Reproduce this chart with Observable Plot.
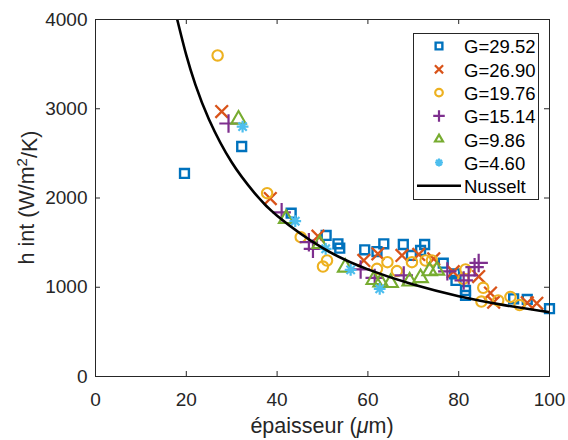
<!DOCTYPE html>
<html>
<head>
<meta charset="utf-8">
<script src="https://cdn.jsdelivr.net/npm/d3@7"></script>
<script src="https://cdn.jsdelivr.net/npm/@observablehq/plot@0.6"></script>
<style>
  html, body { margin: 0; padding: 0; background: #fff; }
  #chart { width: 568px; height: 440px; }
</style>
</head>
<body>
<div id="chart"></div>
<script>
// ---- data ----
const seriesNames = ["G=29.52", "G=26.90", "G=19.76", "G=15.14", "G=9.86", "G=4.60"];
const seriesColors = ["#0072BD", "#D95319", "#EDB120", "#7E2F8E", "#77AC30", "#4DBEEE"];

const g2952 = [[19.6,2275],[32.2,2577],[43.1,1830],[50.8,1580],[53.4,1487],[53.8,1438],[59.3,1419],[62.0,1400],[63.5,1487],[67.8,1479],[69.6,1356],[71.6,1412],[72.5,1479],[76.6,1270],[79.1,1151],[79.4,1076],[81.5,964],[81.5,908],[92.1,871],[95.1,863],[100,760]];
const g2690 = [[27.8,2969],[38.5,1994],[49.0,1572],[59.1,1300],[62.2,1375],[67.5,1356],[71.2,1367],[74.5,1318],[78.8,1175],[84.4,1120],[87.0,935],[87.7,833],[95.1,825],[97.2,820]];
const g1976 = [[26.9,3597],[37.8,2054],[45.2,1561],[50.1,1232],[51.0,1300],[62.0,1206],[64.3,1281],[66.4,1181],[69.7,1281],[72.7,1300],[74.1,1300],[81.5,1200],[81.0,1095],[85.4,994],[85.0,840],[88.7,852],[91.4,892],[93.4,800]];
const g1514 = [[29.3,2835],[41.0,1840],[47.0,1505],[47.9,1431],[58.4,1200],[61.5,1105],[67.9,1132],[77.5,1178],[81.1,1076],[82.2,1132],[83.5,1225],[84.4,1272]];
const g986 = [[31.5,2880],[42.0,1767],[49.4,1487],[55.0,1222],[61.3,1083],[62.8,1057],[65.0,1050],[69.2,1066],[71.6,1104],[73.6,1181],[75.2,1188]];
const g460 = [[32.4,2800],[44.0,1740],[50.7,1431],[56.2,1195],[62.6,982]];
const seriesData = [g2952, g2690, g1976, g1514, g986, g460];

// Nusselt curve points
const nusseltX = [18.0, 20, 22, 25, 30, 35, 40, 50, 60, 70, 80, 90, 100];
const nusseltY = [4000, 3600, 3270, 2880, 2400, 2057, 1800, 1440, 1200, 1030, 900, 800, 720];

const xTicks = [0, 20, 40, 60, 80, 100];
const yTicks = [0, 1000, 2000, 3000, 4000];

// ---- layout ----
const W = 568, H = 440;
const mL = 95, mR = 19, mT = 19, mB = 64;
const innerW = W - mL - mR, innerH = H - mT - mB;
const axisColor = "#262626";
const fontFam = "'Liberation Sans', Arial, Helvetica, sans-serif";
const tick = 5;

// custom 8-spoke asterisk like MATLAB '*'
const star8 = {
  draw(ctx, size) {
    const r = Math.sqrt(size / Math.PI) * 1.05;
    for (let i = 0; i < 4; i++) {
      const a = i * Math.PI / 4;
      ctx.moveTo(r * Math.cos(a), r * Math.sin(a));
      ctx.lineTo(-r * Math.cos(a), -r * Math.sin(a));
    }
  }
};
const symbols = ["square", "times", "circle", "plus", "triangle", star8];
const radii = [5, 5.8, 5.2, 6, 5.4, 5.6];
const strokeWs = [2.4, 2.3, 2.1, 2.2, 2.1, 2.2];

const points = [];
seriesData.forEach((arr, i) => arr.forEach(([x, y]) => points.push({x, y, s: i})));
const nusselt = nusseltX.map((x, i) => ({x, y: nusseltY[i]}));

const marks = [];
seriesData.forEach((arr, i) => {
  marks.push(Plot.dot(points.filter(d => d.s === i), {
    x: "x", y: "y", symbol: () => symbols[i], r: radii[i],
    stroke: seriesColors[i], strokeWidth: strokeWs[i], fill: "none"
  }));
});
marks.push(Plot.line(nusselt, {x: "x", y: "y", stroke: "black", strokeWidth: 2.6, curve: "natural", clip: true}));
// inward ticks (box on)
marks.push(Plot.tickX(xTicks, {x: d => d, insetTop: innerH - tick, stroke: axisColor}));
marks.push(Plot.tickX(xTicks, {x: d => d, insetBottom: innerH - tick, stroke: axisColor}));
marks.push(Plot.tickY(yTicks, {y: d => d, insetRight: innerW - tick, stroke: axisColor}));
marks.push(Plot.tickY(yTicks, {y: d => d, insetLeft: innerW - tick, stroke: axisColor}));
marks.push(Plot.frame({stroke: axisColor, strokeWidth: 1}));
marks.push(Plot.axisX(xTicks, {anchor: "bottom", tickSize: 0, tickPadding: 16, label: null, fontSize: 19, fill: axisColor, tickFormat: d3.format("d")}));
marks.push(Plot.axisY(yTicks, {anchor: "left", tickSize: 0, tickPadding: 8, label: null, fontSize: 19, fill: axisColor, tickFormat: d3.format("d")}));

const plot = Plot.plot({
  width: W, height: H,
  marginLeft: mL, marginRight: mR, marginTop: mT, marginBottom: mB,
  x: {domain: [0, 100]},
  y: {domain: [0, 4000]},
  symbol: {type: "identity"},
  style: {fontFamily: fontFam, background: "white", overflow: "visible"},
  marks
});
document.getElementById("chart").appendChild(plot);

// ---- axis titles and legend (text added into the same SVG) ----
const svg = d3.select(plot);
const xl = svg.append("text")
  .attr("x", mL + innerW / 2).attr("y", 433)
  .attr("text-anchor", "middle").attr("fill", axisColor)
  .style("font-family", fontFam).style("font-size", "21.5px");
xl.append("tspan").text("épaisseur (");
xl.append("tspan").style("font-style", "italic").text("μ");
xl.append("tspan").text("m)");

const yl = svg.append("text")
  .attr("transform", `translate(34,${mT + innerH / 2}) rotate(-90)`)
  .attr("text-anchor", "middle").attr("fill", axisColor)
  .style("font-family", fontFam).style("font-size", "21.5px");
yl.append("tspan").text("h int (W/m");
yl.append("tspan").attr("dy", "-0.45em").style("font-size", "15px").text("2");
yl.append("tspan").attr("dy", "0.45em").text("/K)");

// legend
const lg = svg.append("g");
const lx0 = 413, ly0 = 33, lw = 125, lh = 166, rowH = 23.3, row0 = 46;
lg.append("rect").attr("x", lx0 + 0.5).attr("y", ly0 + 0.5).attr("width", lw).attr("height", lh)
  .attr("fill", "white").attr("stroke", axisColor).attr("stroke-width", 1);
const d3sym = [d3.symbolSquare, d3.symbolTimes, d3.symbolCircle, d3.symbolPlus, d3.symbolTriangle2, star8];
const lr = 3.8;
seriesNames.forEach((name, i) => {
  const cy = row0 + i * rowH;
  lg.append("path")
    .attr("transform", `translate(439,${cy})`)
    .attr("d", d3.symbol(d3sym[i], Math.PI * lr * lr)())
    .attr("fill", "none").attr("stroke", seriesColors[i]).attr("stroke-width", i === 0 ? 2.4 : 2.2);
  lg.append("text").attr("x", 464).attr("y", cy).attr("dy", "0.4em").attr("text-anchor", "start")
    .attr("fill", "black").style("font-family", fontFam).style("font-size", "18.5px").text(name);
});
const ny = row0 + 6 * rowH;
lg.append("line").attr("x1", 417).attr("x2", 461).attr("y1", ny).attr("y2", ny)
  .attr("stroke", "black").attr("stroke-width", 2.6);
lg.append("text").attr("x", 464).attr("y", ny).attr("dy", "0.4em").attr("text-anchor", "start")
  .attr("fill", "black").style("font-family", fontFam).style("font-size", "18.5px").text("Nusselt");
</script>
</body>
</html>
